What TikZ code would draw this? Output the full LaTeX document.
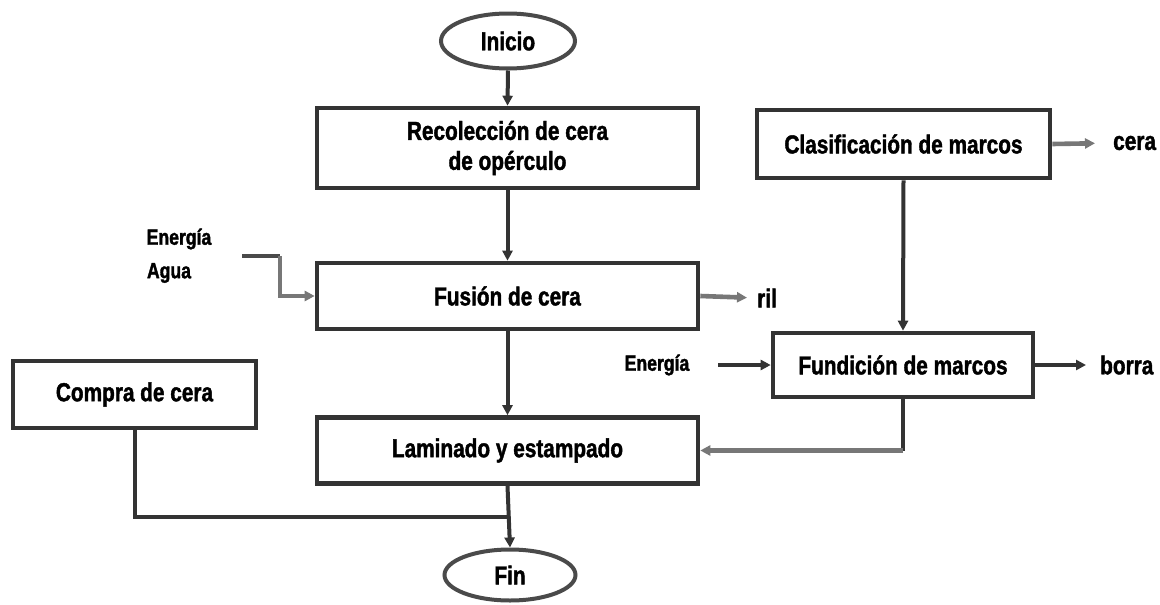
\documentclass[tikz,border=0pt]{standalone}
\usepackage{fontspec}
\newfontfamily\lblfont{Liberation Sans}[FakeStretch=0.8, BoldFeatures={FakeBold=1.5}]
\usetikzlibrary{arrows.meta,shapes.geometric}
\definecolor{edge}{HTML}{333333}
\definecolor{pipe}{HTML}{777777}
\definecolor{rim}{HTML}{4A4A4A}
\tikzset{
  every node/.style={font=\lblfont\bfseries\fontsize{26}{30}\selectfont},
  stepbox/.style={draw=edge, line width=4.6pt, rectangle, align=center, inner sep=0pt},
  terminal/.style={draw=rim, line width=4pt, ellipse, inner sep=0pt},
  tag/.style={inner sep=0pt, font=\lblfont\bfseries\fontsize{26}{30}\selectfont},
  smalltag/.style={inner sep=0pt, font=\lblfont\bfseries\fontsize{22}{26}\selectfont},
  flow/.style={draw=edge, line width=4pt, -{Triangle[length=10pt,width=10pt]}},
  feed/.style={draw=pipe, line width=4.6pt, -{Triangle[length=10pt,width=10pt]}},
  plain/.style={draw=edge, line width=4pt},
}
\begin{document}
\begin{tikzpicture}[x=1pt,y=-1pt]
\useasboundingbox (0,0) rectangle (1160,605);
\fill[white] (0,0) rectangle (1160,605);

% main column
\node[terminal, minimum width=134pt, minimum height=55pt] (inicio) at (508,41) {Inicio};
\node[stepbox, minimum width=381pt, minimum height=80pt] (recol) at (507.5,148) {Recolección de cera\\de opérculo};
\node[stepbox, minimum width=381pt, minimum height=66pt] (fusion) at (507.5,296) {Fusión de cera};
\node[stepbox, minimum width=381pt, minimum height=66pt] (lamin) at (507.5,450.5) {Laminado y estampado};
\node[terminal, minimum width=131pt, minimum height=51pt] (fin) at (510,575) {Fin};

% frame branch
\node[stepbox, minimum width=293pt, minimum height=68pt] (clasif) at (903.5,144) {Clasificación de marcos};
\node[stepbox, minimum width=260pt, minimum height=64pt] (fundic) at (903,365) {Fundición de marcos};

% bought wax
\node[stepbox, minimum width=243pt, minimum height=67pt] (compra) at (134.5,394.5) {Compra de cera};

% inputs and outputs
\node[smalltag] (energia1) at (179,239) {Energía};
\node[smalltag] (agua) at (169,273) {Agua};
\node[smalltag] (energia2) at (657,365) {Energía};
\node[tag, anchor=west] (ril) at (757,298) {ril};
\node[tag, anchor=west] (cera) at (1113,143) {cera};
\node[tag, anchor=west] (borra) at (1100,365) {borra};

\coordinate (aguain) at (242,256);
\coordinate (aguabend) at (280,256);
\coordinate (junta) at (508,517);

% main flow
\draw[flow] (inicio.south) -- (recol.north);
\draw[flow] (recol.south) -- (fusion.north);
\draw[flow] (fusion.south) -- (lamin.north);
\draw[flow] (lamin.south) -- (fin.north);

% frames
\draw[flow] (clasif.south) -- (fundic.north);
\draw[plain] (fundic.south) -- (fundic.south |- lamin.east);
\draw[feed] (fundic.south |- lamin.east) -- (lamin.east);

% bought wax joins the outlet
\draw[plain] (compra.south) |- (junta);

% water and energy into melting
\draw[plain, draw=rim] (aguain) -- (aguabend);
\draw[feed] (aguabend) |- (fusion.west);

% side streams
\draw[feed, shorten >=10pt] (fusion.east) -- (ril.west);
\draw[feed, shorten >=18pt] (clasif.east) -- (cera.west);
\draw[flow, shorten >=14pt] (fundic.east) -- (borra.west);
\draw[flow, shorten <=29pt] (energia2.east) -- (fundic.west);
\end{tikzpicture}
\end{document}
